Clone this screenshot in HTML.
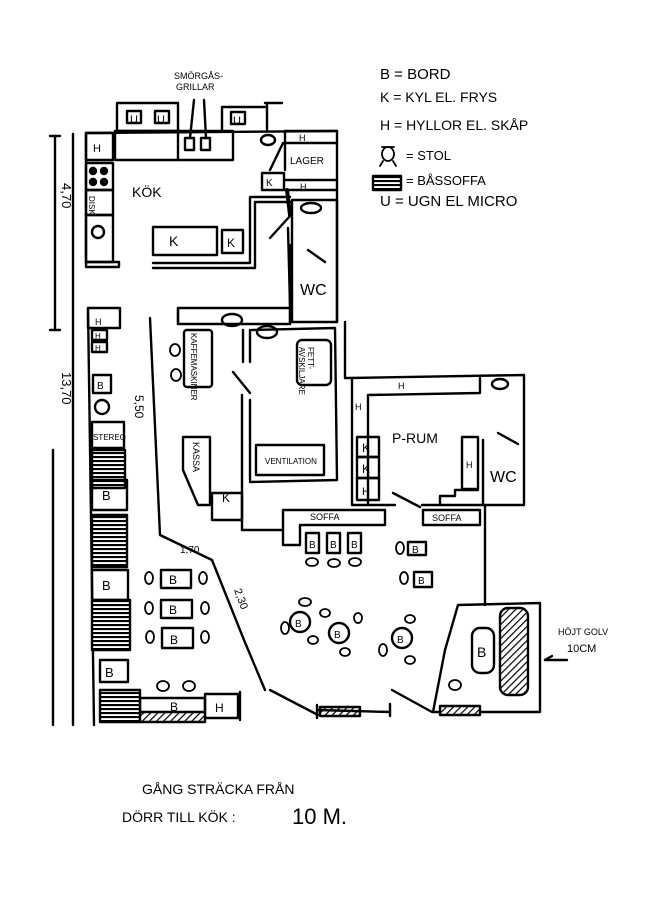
<!DOCTYPE html>
<html><head><meta charset="utf-8"><style>
html,body{margin:0;padding:0;background:#fff;}
svg{display:block;}
text{font-family:"Liberation Sans",sans-serif;fill:#000;}
</style></head><body>
<svg width="649" height="915" viewBox="0 0 649 915" xmlns="http://www.w3.org/2000/svg">
<defs>
<pattern id="h" width="5" height="5" patternUnits="userSpaceOnUse" patternTransform="rotate(45)">
<rect width="5" height="5" fill="#fff"/><line x1="0" y1="0" x2="0" y2="5" stroke="#000" stroke-width="2.4"/></pattern>
<pattern id="s" width="6" height="4" patternUnits="userSpaceOnUse">
<rect width="6" height="4" fill="#fff"/><line x1="0" y1="1" x2="6" y2="1" stroke="#000" stroke-width="2.2"/></pattern>
</defs>
<g fill="none" stroke="#000" stroke-width="2.4" stroke-linecap="round" stroke-linejoin="round">
<line x1="73" y1="134" x2="73" y2="725"/>
<line x1="86" y1="133" x2="86" y2="262"/>
<line x1="88" y1="308" x2="94" y2="725"/>
<line x1="55" y1="136" x2="55" y2="330"/>
<line x1="50" y1="136" x2="60" y2="136"/><line x1="50" y1="330" x2="60" y2="330"/>
<line x1="53" y1="450" x2="53" y2="725"/>
<line x1="86" y1="133" x2="337" y2="131"/>
<rect x="117" y="103" width="61" height="28"/>
<rect x="127" y="111" width="14" height="12"/><rect x="155" y="111" width="14" height="12"/>
<polyline points="222,131 222,107 265,107"/><line x1="265" y1="103" x2="282" y2="103"/>
<line x1="267" y1="103" x2="267" y2="131"/>
<rect x="231" y="112" width="14" height="12"/>
<rect x="115" y="131" width="118" height="29"/>
<line x1="178" y1="131" x2="178" y2="160"/>
<rect x="185" y="138" width="9" height="12"/><rect x="201" y="138" width="9" height="12"/>
<line x1="190" y1="138" x2="194" y2="100"/><line x1="206" y1="138" x2="204" y2="100"/>
<rect x="86" y="133" width="27" height="27"/>
<rect x="86" y="163" width="27" height="27"/>
<circle cx="93" cy="171" r="3" fill="#000"/><circle cx="104" cy="171" r="3" fill="#000"/><circle cx="93" cy="182" r="3" fill="#000"/><circle cx="104" cy="182" r="3" fill="#000"/>
<rect x="86" y="190" width="27" height="25"/>
<rect x="86" y="215" width="27" height="47"/>
<circle cx="98" cy="232" r="6"/>
<rect x="86" y="262" width="33" height="5"/>
<rect x="153" y="227" width="64" height="28"/><rect x="222" y="230" width="21" height="23"/>
<polyline points="153,263 250,263 250,197 290,197"/>
<polyline points="153,268 255,268 255,202 290,202"/>
<polyline points="285,131 337,131 337,322"/>
<line x1="285" y1="131" x2="285" y2="170"/>
<line x1="285" y1="143" x2="337" y2="143"/>
<line x1="285" y1="180" x2="337" y2="180"/><line x1="285" y1="190" x2="337" y2="190"/>
<rect x="262" y="173" width="22" height="17"/>
<line x1="283" y1="143" x2="270" y2="170"/>
<ellipse cx="268" cy="140" rx="7" ry="5"/>
<line x1="287" y1="190" x2="290" y2="215" stroke-width="4"/>
<line x1="290" y1="216" x2="270" y2="238"/>
<rect x="292" y="200" width="45" height="122"/>
<ellipse cx="311" cy="208" rx="10" ry="5"/>
<line x1="288" y1="228" x2="290" y2="305"/>
<line x1="308" y1="250" x2="325" y2="262"/>
<rect x="178" y="308" width="112" height="16" stroke-width="2.6"/>
<line x1="290" y1="245" x2="290" y2="308"/>
<ellipse cx="232" cy="320" rx="10" ry="6"/>
<line x1="243" y1="330" x2="243" y2="362"/><line x1="250" y1="330" x2="250" y2="362"/>
<ellipse cx="267" cy="332" rx="10" ry="6"/>
<rect x="184" y="330" width="28" height="57" rx="3"/>
<polyline points="252,330 335,328 337,480 250,482"/>
<line x1="345" y1="322" x2="345" y2="378"/>
<rect x="297" y="340" width="34" height="45" rx="5"/>
<rect x="256" y="445" width="68" height="30"/>
<line x1="242" y1="395" x2="242" y2="530"/><line x1="250" y1="400" x2="250" y2="480"/>
<line x1="233" y1="372" x2="250" y2="393"/>
<polygon points="183,437 210,437 210,505 198,505 183,470"/>
<rect x="212" y="493" width="30" height="27"/>
<polyline points="150,318 160,535 212,560 244,640 265,690"/>
<rect x="88" y="308" width="32" height="20"/>
<rect x="92" y="330" width="15" height="10"/><rect x="92" y="342" width="15" height="10"/>
<rect x="93" y="375" width="18" height="18"/>
<circle cx="102" cy="407" r="7"/>
<rect x="92" y="422" width="32" height="26"/>
<rect x="92" y="450" width="33" height="38" fill="url(#s)"/>
<rect x="92" y="480" width="35" height="30"/>
<rect x="92" y="515" width="35" height="52" fill="url(#s)"/>
<rect x="92" y="570" width="36" height="30"/>
<rect x="92" y="600" width="38" height="50" fill="url(#s)"/>
<rect x="100" y="660" width="28" height="22"/>
<rect x="100" y="690" width="40" height="32" fill="url(#s)"/>
<rect x="161" y="570" width="30" height="18"/>
<rect x="161" y="600" width="31" height="18"/>
<rect x="162" y="628" width="31" height="20"/>
<rect x="140" y="698" width="65" height="15"/>
<rect x="205" y="694" width="33" height="24"/>
<rect x="140" y="712" width="65" height="10" fill="url(#h)"/>
<line x1="240" y1="692" x2="240" y2="720"/>
<polygon points="283,510 385,510 385,525 300,525 300,545 283,545"/>
<polyline points="242,530 283,530"/>
<rect x="306" y="533" width="13" height="20"/><rect x="327" y="533" width="13" height="20"/><rect x="348" y="533" width="13" height="20"/>
<polyline points="345,378 350,378 524,375 524,505 422,505"/>
<polyline points="352,378 352,505 395,505"/>
<polyline points="368,505 368,395 480,393 480,378"/>
<rect x="357" y="437" width="22" height="20"/><rect x="357" y="457" width="22" height="21"/><rect x="357" y="478" width="22" height="22"/>
<polyline points="483,440 483,505"/>
<rect x="462" y="437" width="16" height="52"/>
<polyline points="440,505 440,496 455,496 455,490 478,490"/>
<line x1="393" y1="493" x2="420" y2="507"/>
<line x1="498" y1="433" x2="518" y2="444"/>
<ellipse cx="500" cy="384" rx="8" ry="5"/>
<polygon points="423,510 480,510 480,525 423,525"/>
<line x1="485" y1="505" x2="485" y2="605"/>
<rect x="408" y="542" width="18" height="13"/><rect x="414" y="572" width="18" height="15"/>
<circle cx="300" cy="622" r="10"/><circle cx="339" cy="633" r="10"/><circle cx="402" cy="638" r="10"/>
<polygon points="458,605 540,603 540,712 433,712 445,650"/>
<rect x="472" y="628" width="22" height="45" rx="8"/>
<rect x="500" y="608" width="28" height="87" rx="8" fill="url(#h)"/>
<line x1="545" y1="660" x2="567" y2="660"/><line x1="545" y1="660" x2="552" y2="656"/>
<line x1="270" y1="690" x2="318" y2="715"/>
<rect x="320" y="707" width="40" height="9" fill="url(#h)"/>
<line x1="318" y1="710" x2="390" y2="712"/>
<line x1="317" y1="705" x2="317" y2="718"/><line x1="390" y1="704" x2="390" y2="716"/>
<line x1="392" y1="690" x2="432" y2="712"/>
<rect x="440" y="706" width="40" height="9" fill="url(#h)"/>
<g stroke-width="1.8">
<ellipse cx="175" cy="350" rx="5" ry="6"/><ellipse cx="176" cy="375" rx="5" ry="6"/>
<ellipse cx="149" cy="578" rx="4" ry="6"/><ellipse cx="203" cy="578" rx="4" ry="6"/>
<ellipse cx="149" cy="608" rx="4" ry="6"/><ellipse cx="205" cy="608" rx="4" ry="6"/>
<ellipse cx="150" cy="637" rx="4" ry="6"/><ellipse cx="205" cy="637" rx="4" ry="6"/>
<ellipse cx="163" cy="686" rx="6" ry="5"/><ellipse cx="189" cy="686" rx="6" ry="5"/>
<ellipse cx="312" cy="562" rx="6" ry="4"/><ellipse cx="334" cy="563" rx="6" ry="4"/><ellipse cx="355" cy="562" rx="6" ry="4"/>
<ellipse cx="400" cy="548" rx="4" ry="6"/><ellipse cx="404" cy="578" rx="4" ry="6"/>
<ellipse cx="285" cy="628" rx="4" ry="6"/><ellipse cx="305" cy="602" rx="6" ry="4"/><ellipse cx="313" cy="640" rx="5" ry="4"/>
<ellipse cx="325" cy="613" rx="5" ry="4"/><ellipse cx="358" cy="618" rx="4" ry="5"/><ellipse cx="345" cy="652" rx="5" ry="4"/>
<ellipse cx="383" cy="650" rx="4" ry="6"/><ellipse cx="410" cy="619" rx="5" ry="4"/><ellipse cx="410" cy="660" rx="5" ry="4"/>
<ellipse cx="455" cy="685" rx="6" ry="5"/>
<ellipse cx="388" cy="154" rx="6" ry="7"/><line x1="382" y1="147" x2="394" y2="147"/><line x1="383" y1="161" x2="380" y2="166"/><line x1="393" y1="161" x2="396" y2="166"/>
</g>
<rect x="373" y="176" width="28" height="14" fill="url(#s)"/>
</g>
<g font-size="14">
<text x="132" y="197">KÖK</text>
<text x="169" y="246">K</text><text x="227" y="247" font-size="12">K</text>
<text x="130" y="123" font-size="11">U</text><text x="157" y="123" font-size="11">U</text><text x="233" y="124" font-size="11">U</text>
<text x="93" y="152" font-size="11">H</text><text x="299" y="141" font-size="9">H</text>
<text x="290" y="164" font-size="10">LAGER</text>
<text x="266" y="186" font-size="10">K</text><text x="300" y="190" font-size="9">H</text>
<text x="300" y="295" font-size="16">WC</text>
<text x="174" y="79" font-size="9">SMÖRGÅS-</text><text x="176" y="90" font-size="9">GRILLAR</text>
<text x="95" y="210" font-size="8" transform="rotate(90 99 200)">DISK</text>
<text x="95" y="325" font-size="9">H</text><text x="95" y="339" font-size="8">H</text><text x="95" y="351" font-size="8">H</text>
<text x="97" y="389" font-size="10">B</text>
<text x="93" y="440" font-size="8">STEREO</text>
<text x="102" y="500" font-size="13">B</text><text x="102" y="590" font-size="13">B</text><text x="105" y="677" font-size="13">B</text>
<text x="169" y="584" font-size="12">B</text><text x="169" y="614" font-size="12">B</text><text x="170" y="644" font-size="12">B</text>
<text x="170" y="711" font-size="12">B</text><text x="215" y="712" font-size="12">H</text>
<text x="222" y="502" font-size="12">K</text>
<text x="265" y="464" font-size="8">VENTILATION</text>
<text x="0" y="0" font-size="8" transform="translate(191,333) rotate(90)">KAFFEMASKINER</text>
<text x="0" y="0" font-size="9" transform="translate(193,442) rotate(90)">KASSA</text>
<text x="0" y="0" font-size="8" transform="translate(308,347) rotate(90)">FETT-</text>
<text x="0" y="0" font-size="8" transform="translate(299,347) rotate(90)">AVSKILJARE</text>
<text x="0" y="0" font-size="13" transform="translate(62,183) rotate(90)">4,70</text>
<text x="0" y="0" font-size="13" transform="translate(62,372) rotate(90)">13,70</text>
<text x="0" y="0" font-size="12" transform="translate(135,395) rotate(90)">5,50</text>
<text x="0" y="0" font-size="11" transform="translate(234,590) rotate(70)">2,30</text>
<text x="180" y="553" font-size="10">1,70</text>
<text x="310" y="520" font-size="9">SOFFA</text><text x="432" y="521" font-size="9">SOFFA</text>
<text x="309" y="548" font-size="10">B</text><text x="330" y="548" font-size="10">B</text><text x="351" y="548" font-size="10">B</text>
<text x="412" y="553" font-size="10">B</text><text x="418" y="584" font-size="10">B</text>
<text x="295" y="627" font-size="10">B</text><text x="334" y="638" font-size="10">B</text><text x="397" y="643" font-size="10">B</text>
<text x="477" y="657" font-size="14">B</text>
<text x="398" y="389" font-size="9">H</text><text x="355" y="410" font-size="9">H</text>
<text x="362" y="452" font-size="12">K</text><text x="362" y="473" font-size="12">K</text><text x="362" y="495" font-size="11">H</text>
<text x="466" y="468" font-size="9">H</text>
<text x="392" y="443" font-size="14">P-RUM</text>
<text x="490" y="482" font-size="16">WC</text>
<text x="558" y="635" font-size="9">HÖJT GOLV</text><text x="567" y="652" font-size="11">10CM</text>
<text x="380" y="79" font-size="15">B = BORD</text>
<text x="380" y="102" font-size="14">K = KYL EL. FRYS</text>
<text x="380" y="130" font-size="14">H = HYLLOR EL. SKÅP</text>
<text x="406" y="160" font-size="13">= STOL</text>
<text x="406" y="185" font-size="13">= BÅSSOFFA</text>
<text x="380" y="206" font-size="15">U = UGN EL MICRO</text>
<text x="142" y="794" font-size="14">GÅNG STRÄCKA  FRÅN</text>
<text x="122" y="822" font-size="14">DÖRR TILL  KÖK :</text>
<text x="292" y="824" font-size="22">10 M.</text>
</g>
</svg>
</body></html>
